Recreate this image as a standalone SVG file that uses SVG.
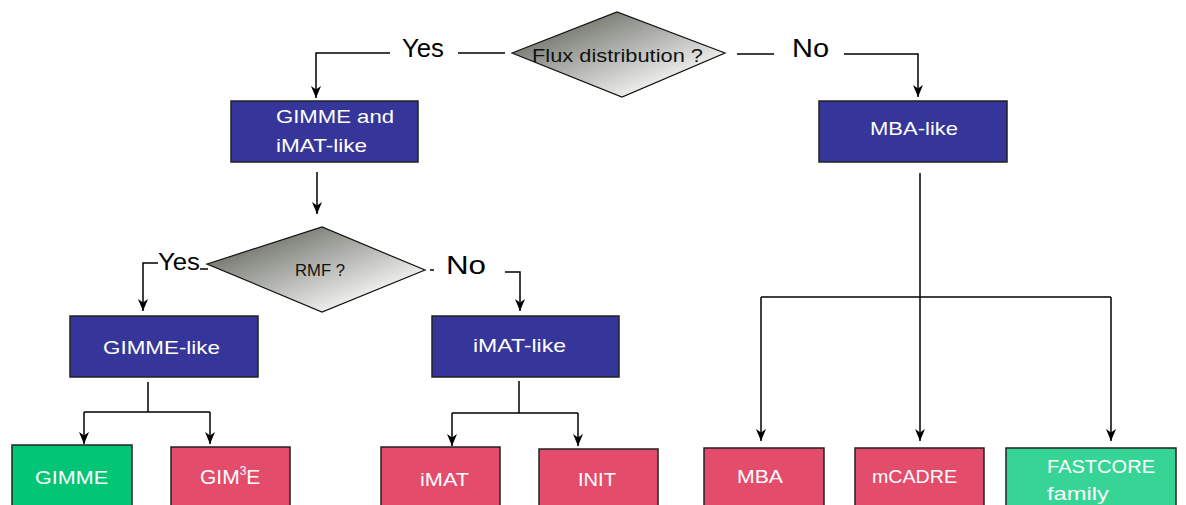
<svg xmlns="http://www.w3.org/2000/svg" width="1186" height="505" viewBox="0 0 1186 505">
<defs>
<linearGradient id="dg" x1="0" y1="0" x2="1" y2="1">
<stop offset="0.1" stop-color="#62655c"/>
<stop offset="0.85" stop-color="#ffffff"/>
</linearGradient>
<marker id="ah" markerUnits="userSpaceOnUse" markerWidth="14" markerHeight="12" refX="12" refY="5" orient="auto">
<path d="M0,0 L12,5 L0,10 L3.5,5 z" fill="#000"/>
</marker>
</defs>
<style>
.dia{fill:url(#dg);stroke:#111;stroke-width:1.2}
.box{stroke:#222;stroke-width:1.5}
.blue{fill:#36369a}
.green{fill:#03c576}
.red{fill:#e44c6c}
.lgreen{fill:#37d595}
.bt{fill:#fff;font-family:"Liberation Sans",Arial,sans-serif;font-size:19px}
.dt{fill:#111;font-family:"Liberation Sans",Arial,sans-serif}
.lbl{fill:#000;font-family:"Liberation Sans",Arial,sans-serif;font-size:26px}
.c{fill:none;stroke:#000;stroke-width:1.5}
.ca{fill:none;stroke:#000;stroke-width:1.5;marker-end:url(#ah)}
</style>
<rect width="1186" height="505" fill="#fff"/>
<g id="connectors">
<path class="ca" d="M390,53 H316 V98"/>
<text class="lbl" x="402" y="57" textLength="42" lengthAdjust="spacingAndGlyphs">Yes</text>
<path class="c" d="M458,53 H505"/>
<path class="c" d="M737,54 H774"/>
<text class="lbl" x="792" y="57" textLength="37" lengthAdjust="spacingAndGlyphs">No</text>
<path class="ca" d="M844,54 H918 V97"/>
<path class="ca" d="M317,172 V214"/>
<path class="ca" d="M158,263 H143 V311"/>
<text class="lbl" x="158" y="270" style="font-size:24px" textLength="42" lengthAdjust="spacingAndGlyphs">Yes</text>
<path class="c" d="M200,269 H208"/>
<path class="c" d="M430,270 H434"/>
<text class="lbl" x="446" y="274" textLength="40" lengthAdjust="spacingAndGlyphs">No</text>
<path class="ca" d="M505,272 H520 V311"/>
<path class="c" d="M148,382 V412 M84,412 H210"/>
<path class="ca" d="M84,412 V444"/>
<path class="ca" d="M210,412 V444"/>
<path class="c" d="M519,381 V413 M452,413 H578"/>
<path class="ca" d="M452,413 V446"/>
<path class="ca" d="M578,413 V446"/>
<path class="ca" d="M920,173 V441"/>
<path class="c" d="M761,297 H1111"/>
<path class="ca" d="M761,297 V441"/>
<path class="ca" d="M1111,297 V441"/>
</g>
<g id="flux">
<polygon class="dia" points="512,53 617,12 725,53 622,97"/>
<text class="dt" x="532" y="62" font-size="19" textLength="171" lengthAdjust="spacingAndGlyphs">Flux distribution ?</text>
</g>
<g id="gimme_imat">
<rect class="box blue" x="231" y="101" width="187" height="61"/>
<text class="bt" x="276" y="123" textLength="118" lengthAdjust="spacingAndGlyphs">GIMME and</text>
<text class="bt" x="276" y="152" textLength="91" lengthAdjust="spacingAndGlyphs">iMAT-like</text>
</g>
<g id="mba_like">
<rect class="box blue" x="819" y="101" width="188" height="61"/>
<text class="bt" x="870" y="135" textLength="88" lengthAdjust="spacingAndGlyphs">MBA-like</text>
</g>
<g id="rmf">
<polygon class="dia" points="207,264 322,227 425,270 322,312"/>
<text class="dt" x="295" y="276" font-size="17" textLength="50" lengthAdjust="spacingAndGlyphs">RMF ?</text>
</g>
<g id="gimme_like">
<rect class="box blue" x="70" y="316" width="188" height="61"/>
<text class="bt" x="103" y="354" textLength="117" lengthAdjust="spacingAndGlyphs">GIMME-like</text>
</g>
<g id="imat_like">
<rect class="box blue" x="432" y="316" width="187" height="61"/>
<text class="bt" x="473" y="352" textLength="93" lengthAdjust="spacingAndGlyphs">iMAT-like</text>
</g>
<g id="gimme">
<rect class="box green" x="12" y="445" width="120" height="80"/>
<text class="bt" x="35" y="484" textLength="73" lengthAdjust="spacingAndGlyphs">GIMME</text>
</g>
<g id="gim3e">
<rect class="box red" x="171" y="447" width="119" height="80"/>
<text class="bt" x="200" y="484" style="font-size:21px">GIM<tspan dy="-9" style="font-size:12px">3</tspan><tspan dy="9">E</tspan></text>
</g>
<g id="imat">
<rect class="box red" x="381" y="447" width="119" height="80"/>
<text class="bt" x="420" y="486" textLength="49" lengthAdjust="spacingAndGlyphs">iMAT</text>
</g>
<g id="init">
<rect class="box red" x="539" y="449" width="119" height="80"/>
<text class="bt" x="578" y="486" textLength="38" lengthAdjust="spacingAndGlyphs">INIT</text>
</g>
<g id="mba">
<rect class="box red" x="704" y="448" width="120" height="80"/>
<text class="bt" x="737" y="483" textLength="46" lengthAdjust="spacingAndGlyphs">MBA</text>
</g>
<g id="mcadre">
<rect class="box red" x="855" y="448" width="129" height="80"/>
<text class="bt" x="872" y="483" textLength="85" lengthAdjust="spacingAndGlyphs">mCADRE</text>
</g>
<g id="fastcore">
<rect class="box lgreen" x="1006" y="448" width="170" height="80"/>
<text class="bt" x="1047" y="473" textLength="108" lengthAdjust="spacingAndGlyphs">FASTCORE</text>
<text class="bt" x="1047" y="500" textLength="62" lengthAdjust="spacingAndGlyphs">family</text>
</g>
</svg>
